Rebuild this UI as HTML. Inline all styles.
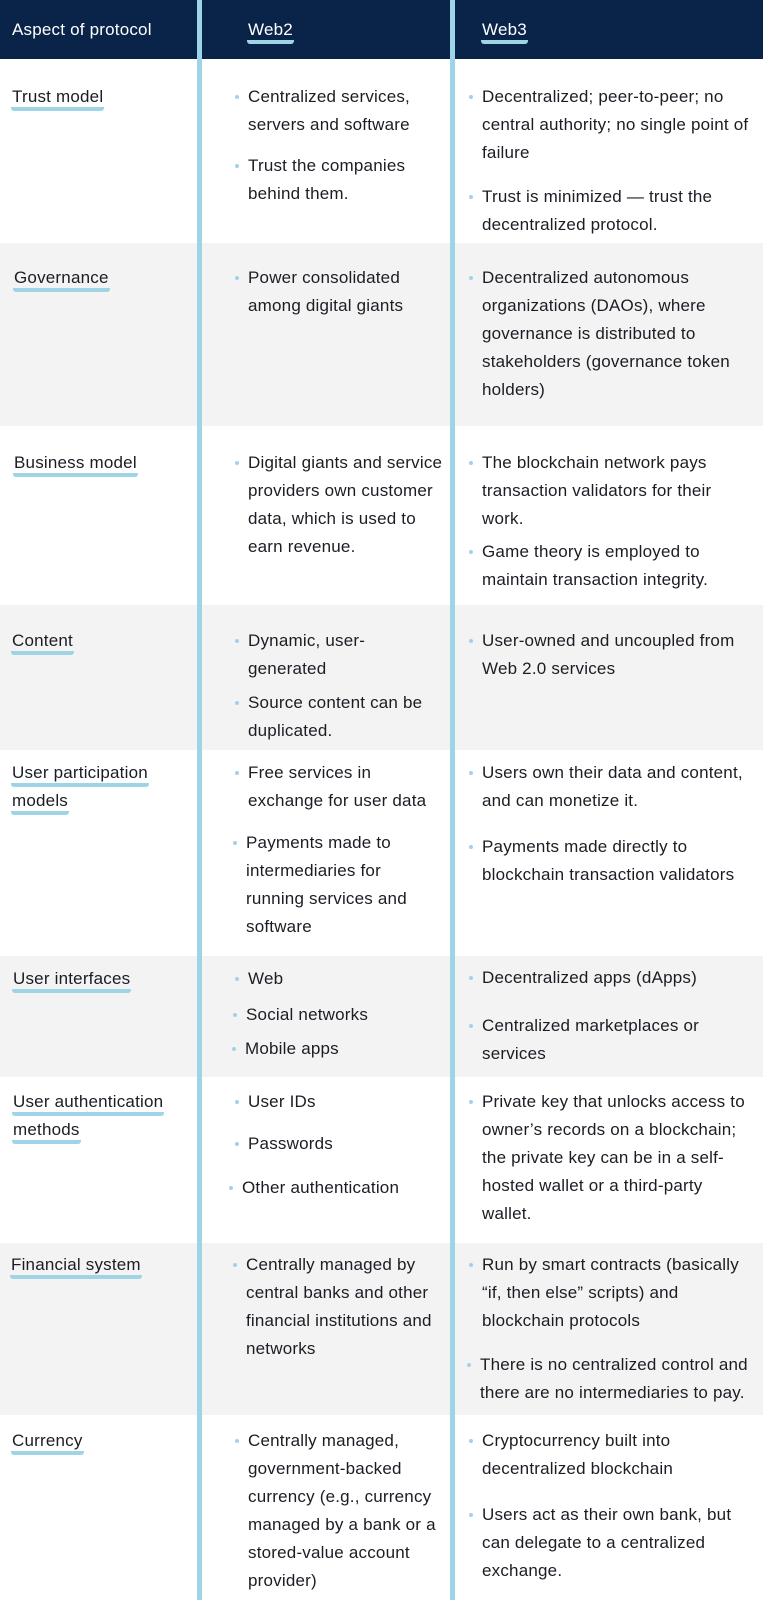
<!DOCTYPE html>
<html><head><meta charset="utf-8"><style>
body{margin:0;width:763px;height:1600px;position:relative;overflow:hidden;background:#fff;font-family:"Liberation Sans",sans-serif;font-size:17px;letter-spacing:0.2px;color:#1c1c24}
.row{position:absolute;left:0;width:763px}
.g{background:#f3f3f3}
.bar{position:absolute;top:0;height:1600px;width:5px;background:#9fd3e6}
.t{position:absolute;line-height:28px;white-space:nowrap}
.b::before{content:"";position:absolute;left:-13px;top:12px;width:4px;height:4px;border-radius:2px;background:#9fd3e6}
.u{border-bottom:4px solid #9fd3e6;border-radius:3px;padding:0 1px 1px 1px;margin-left:-1px}
.h{color:#fff}
</style></head><body>
<div class="row" style="top:0;height:59px;background:#0a2348"></div>
<div class="row g" style="top:243px;height:183px"></div>
<div class="row g" style="top:605px;height:145px"></div>
<div class="row g" style="top:956px;height:121px"></div>
<div class="row g" style="top:1243px;height:172px"></div>
<div class="bar" style="left:197px"></div>
<div class="bar" style="left:450px"></div>

<div class="t h" style="left:12px;top:16px">Aspect of protocol</div>
<div class="t h" style="left:248px;top:16px"><span class="u">Web2</span></div>
<div class="t h" style="left:482px;top:16px"><span class="u">Web3</span></div>

<div class="t" style="left:12px;top:83px"><span class="u">Trust model</span></div>
<div class="t b" style="left:248px;top:83px">Centralized services,<br>servers and software</div>
<div class="t b" style="left:248px;top:152px">Trust the companies<br>behind them.</div>
<div class="t b" style="left:482px;top:83px">Decentralized; peer-to-peer; no<br>central authority; no single point of<br>failure</div>
<div class="t b" style="left:482px;top:183px">Trust is minimized — trust the<br>decentralized protocol.</div>

<div class="t" style="left:14px;top:264px"><span class="u">Governance</span></div>
<div class="t b" style="left:248px;top:264px">Power consolidated<br>among digital giants</div>
<div class="t b" style="left:482px;top:264px">Decentralized autonomous<br>organizations (DAOs), where<br>governance is distributed to<br>stakeholders (governance token<br>holders)</div>

<div class="t" style="left:14px;top:449px"><span class="u">Business model</span></div>
<div class="t b" style="left:248px;top:449px">Digital giants and service<br>providers own customer<br>data, which is used to<br>earn revenue.</div>
<div class="t b" style="left:482px;top:449px">The blockchain network pays<br>transaction validators for their<br>work.</div>
<div class="t b" style="left:482px;top:538px">Game theory is employed to<br>maintain transaction integrity.</div>

<div class="t" style="left:12px;top:627px"><span class="u">Content</span></div>
<div class="t b" style="left:248px;top:627px">Dynamic, user-<br>generated</div>
<div class="t b" style="left:248px;top:689px">Source content can be<br>duplicated.</div>
<div class="t b" style="left:482px;top:627px">User-owned and uncoupled from<br>Web 2.0 services</div>

<div class="t" style="left:12px;top:759px"><span class="u">User participation</span><br><span class="u">models</span></div>
<div class="t b" style="left:248px;top:759px">Free services in<br>exchange for user data</div>
<div class="t b" style="left:246px;top:829px">Payments made to<br>intermediaries for<br>running services and<br>software</div>
<div class="t b" style="left:482px;top:759px">Users own their data and content,<br>and can monetize it.</div>
<div class="t b" style="left:482px;top:833px">Payments made directly to<br>blockchain transaction validators</div>

<div class="t" style="left:13px;top:965px"><span class="u">User interfaces</span></div>
<div class="t b" style="left:248px;top:965px">Web</div>
<div class="t b" style="left:246px;top:1001px">Social networks</div>
<div class="t b" style="left:245px;top:1035px">Mobile apps</div>
<div class="t b" style="left:482px;top:964px">Decentralized apps (dApps)</div>
<div class="t b" style="left:482px;top:1012px">Centralized marketplaces or<br>services</div>

<div class="t" style="left:13px;top:1088px"><span class="u">User authentication</span><br><span class="u">methods</span></div>
<div class="t b" style="left:248px;top:1088px">User IDs</div>
<div class="t b" style="left:248px;top:1130px">Passwords</div>
<div class="t b" style="left:242px;top:1174px">Other authentication</div>
<div class="t b" style="left:482px;top:1088px">Private key that unlocks access to<br>owner’s records on a blockchain;<br>the private key can be in a self-<br>hosted wallet or a third-party<br>wallet.</div>

<div class="t" style="left:11px;top:1251px"><span class="u">Financial system</span></div>
<div class="t b" style="left:246px;top:1251px">Centrally managed by<br>central banks and other<br>financial institutions and<br>networks</div>
<div class="t b" style="left:482px;top:1251px">Run by smart contracts (basically<br>“if, then else” scripts) and<br>blockchain protocols</div>
<div class="t b" style="left:480px;top:1351px">There is no centralized control and<br>there are no intermediaries to pay.</div>

<div class="t" style="left:12px;top:1427px"><span class="u">Currency</span></div>
<div class="t b" style="left:248px;top:1427px">Centrally managed,<br>government-backed<br>currency (e.g., currency<br>managed by a bank or a<br>stored-value account<br>provider)</div>
<div class="t b" style="left:482px;top:1427px">Cryptocurrency built into<br>decentralized blockchain</div>
<div class="t b" style="left:482px;top:1501px">Users act as their own bank, but<br>can delegate to a centralized<br>exchange.</div>
</body></html>
